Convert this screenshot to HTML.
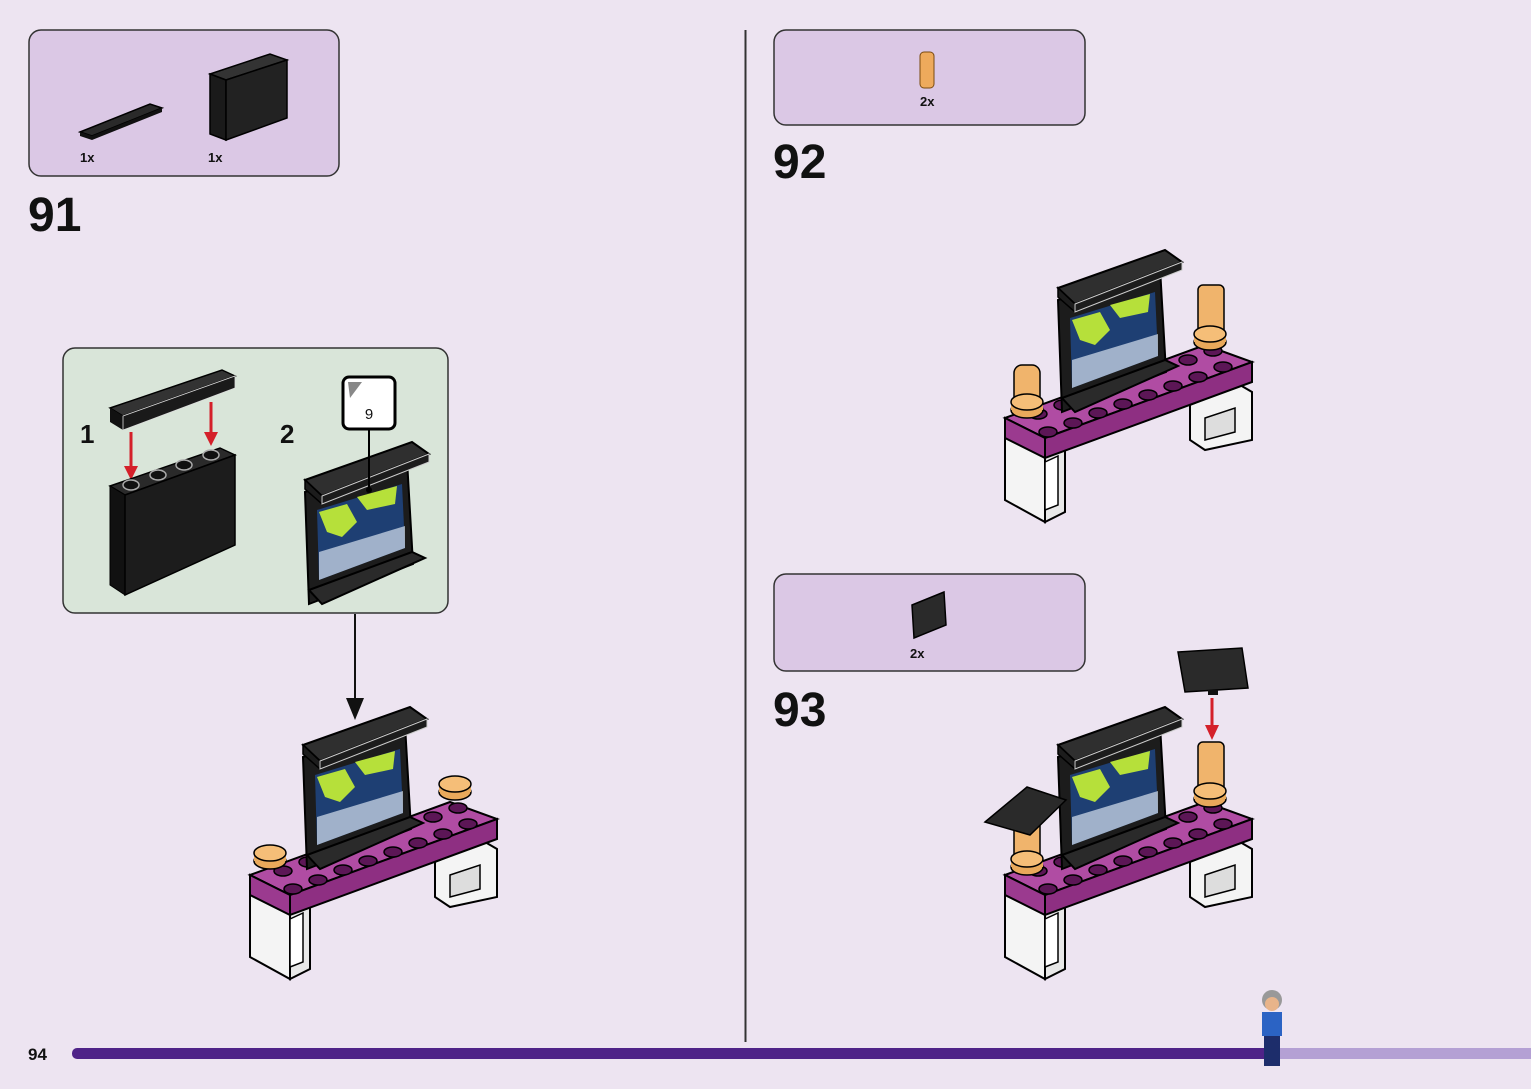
<!DOCTYPE html>
<html><head><meta charset="utf-8"><style>
html,body{margin:0;padding:0;background:#ede4f1;}
body{width:1531px;height:1089px;overflow:hidden;position:relative;font-family:"Liberation Sans",sans-serif;}
</style></head><body>
<svg width="1531" height="1089" viewBox="0 0 1531 1089" xmlns="http://www.w3.org/2000/svg" style="position:absolute;left:0;top:0">
<defs>
<g id="screen">
  <!-- monitor, coords based on scene 92 -->
  <polygon points="1058,300 1160,268 1166,372 1062,412" fill="#1c1c1c" stroke="#000" stroke-width="2"/>
  <polygon points="1070,318 1155,292 1158,356 1072,388" fill="#1e3f73"/>
  <polygon points="1072,320 1100,312 1110,330 1095,345 1080,340" fill="#b6e03a"/>
  <polygon points="1110,305 1150,294 1148,312 1120,318" fill="#b6e03a"/>
  <polygon points="1072,360 1158,334 1158,356 1072,388" fill="#d7e3f0" opacity="0.7"/>
  <polygon points="1062,398 1165,360 1178,366 1075,412" fill="#2a2a2a" stroke="#000" stroke-width="2"/>
  <polygon points="1058,288 1165,250 1182,262 1075,304" fill="#2f2f2f" stroke="#000" stroke-width="2"/>
  <polygon points="1058,288 1075,304 1075,312 1058,297" fill="#1c1c1c" stroke="#000" stroke-width="1.5"/>
  <polygon points="1075,304 1182,262 1182,270 1075,312" fill="#1c1c1c" stroke="#ccc" stroke-width="1"/>
</g>
<g id="desk">
  <!-- right leg -->
  <polygon points="1190,405 1240,385 1252,392 1252,440 1205,450 1190,440" fill="#f4f4f4" stroke="#000" stroke-width="2"/>
  <polygon points="1205,418 1235,408 1235,432 1205,440" fill="#ddd" stroke="#000" stroke-width="1.5"/>
  <!-- left leg -->
  <polygon points="1005,436 1045,456 1045,522 1005,500" fill="#f4f4f4" stroke="#000" stroke-width="2"/>
  <polygon points="1045,456 1065,448 1065,512 1045,522" fill="#e8e8e8" stroke="#000" stroke-width="2"/>
  <polygon points="1045,462 1058,456 1058,505 1045,510" fill="#fff" stroke="#000" stroke-width="1.5"/>
  <!-- slab -->
  <polygon points="1005,418 1205,345 1252,362 1045,438" fill="#b04ca3" stroke="#000" stroke-width="2"/>
  <polygon points="1045,438 1252,362 1252,382 1045,458" fill="#8e2f82" stroke="#000" stroke-width="2"/>
  <polygon points="1005,418 1045,438 1045,458 1005,438" fill="#9b3a8f" stroke="#000" stroke-width="2"/>
  <g fill="#5c1656" stroke="#000" stroke-width="1.5">
    <ellipse cx="1048" cy="432" rx="9" ry="5"/><ellipse cx="1073" cy="423" rx="9" ry="5"/>
    <ellipse cx="1098" cy="413" rx="9" ry="5"/><ellipse cx="1123" cy="404" rx="9" ry="5"/>
    <ellipse cx="1148" cy="395" rx="9" ry="5"/><ellipse cx="1173" cy="386" rx="9" ry="5"/>
    <ellipse cx="1198" cy="377" rx="9" ry="5"/><ellipse cx="1223" cy="367" rx="9" ry="5"/>
    <ellipse cx="1038" cy="414" rx="9" ry="5"/><ellipse cx="1063" cy="405" rx="9" ry="5"/>
    <ellipse cx="1188" cy="360" rx="9" ry="5"/><ellipse cx="1213" cy="351" rx="9" ry="5"/>
  </g>
</g>
<g id="post">
  <ellipse cx="0" cy="0" rx="16" ry="8" fill="#e9a95b" stroke="#000" stroke-width="1.5"/>
  <rect x="-16" y="-8" width="32" height="8" fill="#e9a95b"/>
  <ellipse cx="0" cy="-8" rx="16" ry="8" fill="#f5be78" stroke="#000" stroke-width="1.5"/>
</g>
</defs>

<!-- divider -->
<line x1="745.5" y1="30" x2="745.5" y2="1042" stroke="#333" stroke-width="2"/>

<!-- step 91 parts box -->
<rect x="29" y="30" width="310" height="146" rx="12" fill="#dbc8e5" stroke="#333" stroke-width="1.5"/>
<polygon points="80,132 150,104 162,108 92,136" fill="#2a2a2a" stroke="#000" stroke-width="1.5"/>
<polygon points="80,132 92,136 92,140 80,136" fill="#111"/>
<polygon points="92,136 162,108 162,112 92,140" fill="#111"/>
<polygon points="210,74 270,54 287,60 226,80" fill="#333" stroke="#000" stroke-width="1.5"/>
<polygon points="210,74 226,80 226,140 210,134" fill="#1a1a1a" stroke="#000" stroke-width="1.5"/>
<polygon points="226,80 287,60 287,118 226,140" fill="#222" stroke="#000" stroke-width="1.5"/>
<text x="80" y="162" font-size="13" font-weight="bold" fill="#111">1x</text>
<text x="208" y="162" font-size="13" font-weight="bold" fill="#111">1x</text>
<text x="28" y="231" font-size="48" font-weight="bold" fill="#111">91</text>

<!-- sub-box -->
<rect x="63" y="348" width="385" height="265" rx="12" fill="#d9e5d9" stroke="#333" stroke-width="1.5"/>
<text x="80" y="443" font-size="26" font-weight="bold" fill="#111">1</text>
<text x="280" y="443" font-size="26" font-weight="bold" fill="#111">2</text>
<polygon points="110,408 222,370 235,376 123,416" fill="#333" stroke="#000" stroke-width="1.5"/>
<polygon points="110,408 123,416 123,430 110,422" fill="#111"/>
<polygon points="123,416 235,376 235,388 123,430" fill="#1a1a1a" stroke="#ddd" stroke-width="0.8"/>
<line x1="131" y1="432" x2="131" y2="470" stroke="#d4202a" stroke-width="3"/>
<polygon points="124,466 138,466 131,480" fill="#d4202a"/>
<line x1="211" y1="402" x2="211" y2="437" stroke="#d4202a" stroke-width="3"/>
<polygon points="204,432 218,432 211,446" fill="#d4202a"/>
<polygon points="110,486 220,448 235,455 125,495" fill="#2a2a2a" stroke="#000" stroke-width="1.5"/>
<polygon points="110,486 125,495 125,595 110,585" fill="#111" stroke="#000"/>
<polygon points="125,495 235,455 235,545 125,595" fill="#1c1c1c" stroke="#000" stroke-width="1.5"/>
<g fill="#111" stroke="#aaa" stroke-width="1.5"><ellipse cx="131" cy="485" rx="8" ry="5"/><ellipse cx="158" cy="475" rx="8" ry="5"/><ellipse cx="184" cy="465" rx="8" ry="5"/><ellipse cx="211" cy="455" rx="8" ry="5"/></g>
<g transform="translate(-753,192)"><use href="#screen"/></g>
<rect x="343" y="377" width="52" height="52" rx="6" fill="#fff" stroke="#000" stroke-width="3"/>
<polygon points="348,382 362,382 350,398" fill="#888"/>
<text x="369" y="419" font-size="15" text-anchor="middle" fill="#111">9</text>
<line x1="369" y1="429" x2="369" y2="490" stroke="#000" stroke-width="2"/>
<circle cx="369" cy="490" r="3" fill="#000"/>

<line x1="355" y1="614" x2="355" y2="700" stroke="#111" stroke-width="2"/>
<polygon points="346,698 364,698 355,720" fill="#111"/>

<!-- scene 91 -->
<g transform="translate(-755,457)">
  <use href="#desk"/>
  <g transform="translate(1025,404)"><use href="#post"/></g>
  <g transform="translate(1210,335)"><use href="#post"/></g>
  <use href="#screen"/>
</g>

<!-- step 92 -->
<rect x="774" y="30" width="311" height="95" rx="12" fill="#dbc8e5" stroke="#333" stroke-width="1.5"/>
<rect x="920" y="52" width="14" height="36" rx="4" fill="#eeaa5c" stroke="#7a4a10" stroke-width="1"/>
<text x="920" y="106" font-size="13" font-weight="bold" fill="#111">2x</text>
<text x="773" y="178" font-size="48" font-weight="bold" fill="#111">92</text>
<use href="#desk"/>
<rect x="1014" y="365" width="26" height="45" rx="8" fill="#f0b46c" stroke="#000" stroke-width="1.5"/>
<g transform="translate(1027,410)"><use href="#post"/></g>
<rect x="1198" y="285" width="26" height="50" rx="5" fill="#f0b46c" stroke="#000" stroke-width="1.5"/>
<g transform="translate(1210,342)"><use href="#post"/></g>
<use href="#screen"/>

<!-- step 93 -->
<rect x="774" y="574" width="311" height="97" rx="12" fill="#dbc8e5" stroke="#333" stroke-width="1.5"/>
<polygon points="912,605 944,592 946,625 914,638" fill="#2a2a2a" stroke="#000" stroke-width="1.5"/>
<text x="910" y="658" font-size="13" font-weight="bold" fill="#111">2x</text>
<text x="773" y="726" font-size="48" font-weight="bold" fill="#111">93</text>
<g transform="translate(0,457)">
  <use href="#desk"/>
  <rect x="1014" y="-120" width="0" height="0"/>
  <use href="#screen"/>
</g>
<rect x="1014" y="820" width="26" height="45" rx="6" fill="#f0b46c" stroke="#000" stroke-width="1.5"/>
<g transform="translate(1027,867)"><use href="#post"/></g>
<polygon points="985,822 1027,787 1066,800 1030,835" fill="#2a2a2a" stroke="#000" stroke-width="1.5"/>
<rect x="1198" y="742" width="26" height="50" rx="5" fill="#f0b46c" stroke="#000" stroke-width="1.5"/>
<g transform="translate(1210,799)"><use href="#post"/></g>
<polygon points="1178,652 1242,648 1248,688 1185,692" fill="#2a2a2a" stroke="#000" stroke-width="1.5"/>
<rect x="1208" y="690" width="10" height="5" fill="#111"/>
<line x1="1212" y1="698" x2="1212" y2="730" stroke="#d4202a" stroke-width="3"/>
<polygon points="1205,725 1219,725 1212,740" fill="#d4202a"/>

<!-- bottom bar -->
<rect x="72" y="1048" width="1200" height="11" rx="5" fill="#4f2388"/>
<rect x="1268" y="1048" width="263" height="11" fill="#b4a0d4"/>
<text x="28" y="1060" font-size="17" font-weight="bold" fill="#111">94</text>
<!-- figure -->
<circle cx="1272" cy="1000" r="10" fill="#999"/>
<circle cx="1272" cy="1004" r="7" fill="#e8b48a"/>
<rect x="1262" y="1012" width="20" height="24" fill="#2b63c4"/>
<rect x="1264" y="1036" width="16" height="30" fill="#1d2d6b"/>
</svg>
</body></html>
